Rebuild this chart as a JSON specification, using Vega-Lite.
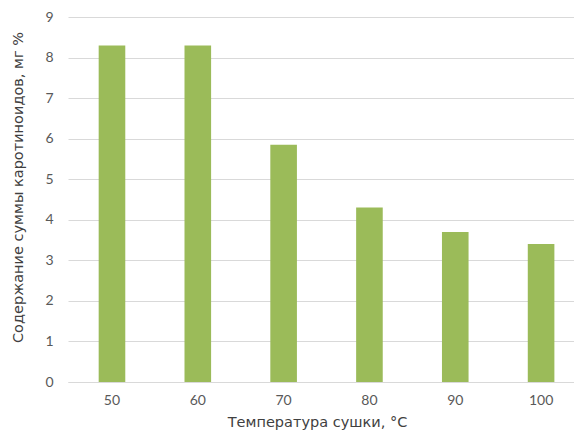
{
  "$schema": "https://vega.github.io/schema/vega-lite/v6.json",
  "autosize": "none",
  "width": 506,
  "height": 365,
  "padding": {"left": 68, "top": 17, "right": 0, "bottom": 54},
  "background": "white",
  "config": {"view": {"stroke": null}, "font": "Lato"},
  "data": {"values": [
    {"t": "50", "v": 8.3},
    {"t": "60", "v": 8.3},
    {"t": "70", "v": 5.85},
    {"t": "80", "v": 4.3},
    {"t": "90", "v": 3.7},
    {"t": "100", "v": 3.4}
  ]},
  "mark": {"type": "bar", "color": "#9BBB59"},
  "encoding": {
    "x": {
      "field": "t", "type": "ordinal", "sort": null,
      "scale": {"paddingInner": 0.69, "paddingOuter": 0.293, "align": 0.61},
      "axis": {
        "title": "Температура сушки, °C", "labelAngle": 0,
        "labelFont": "Lato", "labelFontSize": 14, "labelColor": "#595959",
        "titleFont": "DejaVu Sans", "titleFontSize": 14.5, "titleFontWeight": "normal", "titleColor": "#404040",
        "titleX": 249,
        "ticks": false, "domainColor": "#D9D9D9", "labelPadding": 11, "titlePadding": 8
      }
    },
    "y": {
      "field": "v", "type": "quantitative",
      "scale": {"domain": [0, 9]},
      "axis": {
        "title": "Содержание суммы каротиноидов, мг %", "values": [0,1,2,3,4,5,6,7,8,9],
        "labelOverlap": false,
        "labelFont": "Lato", "labelFontSize": 14, "labelColor": "#595959",
        "titleFont": "DejaVu Sans", "titleFontSize": 14.5, "titleFontWeight": "normal", "titleColor": "#404040",
        "titleY": 170,
        "ticks": false, "domain": false, "gridColor": "#D9D9D9", "labelPadding": 15, "titlePadding": 19
      }
    }
  }
}
